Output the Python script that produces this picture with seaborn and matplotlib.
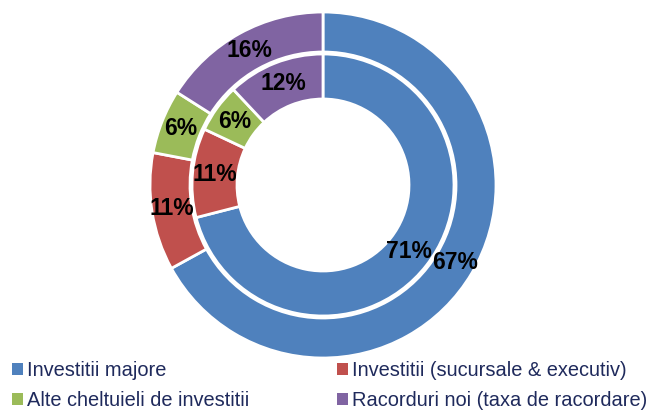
import seaborn as sns
import matplotlib.pyplot as plt
from matplotlib.patches import Patch

# Data
categories = ["Investitii majore", "Investitii (sucursale & executiv)",
              "Alte cheltuieli de investitii", "Racorduri noi (taxa de racordare)"]
outer_values = [67, 11, 6, 16]
inner_values = [71, 11, 6, 12]
colors = ["#4F81BD", "#C0504D", "#9BBB59", "#8064A2"]

sns.set_style("white")
plt.rcParams["font.family"] = ["Liberation Sans", "DejaVu Sans"]

fig = plt.figure(figsize=(6.56, 4.15), dpi=100)
ax = fig.add_axes([0, 0, 1, 1])

center = (323, 230)
wedge_kw = dict(edgecolor="white", linewidth=2)
label_kw = dict(fontsize=16.5, fontweight="bold", color="black")

# Outer ring
ax.pie(outer_values, colors=colors, radius=173, center=center, startangle=90,
       counterclock=False, autopct="%.0f%%", pctdistance=0.884,
       wedgeprops=dict(width=40, **wedge_kw), textprops=label_kw, frame=True)

# Inner ring
ax.pie(inner_values, colors=colors, radius=131, center=center, startangle=90,
       counterclock=False, autopct="%.0f%%", pctdistance=0.83,
       wedgeprops=dict(width=45, **wedge_kw), textprops=label_kw, frame=True)

ax.set_xlim(0, 656)
ax.set_ylim(0, 415)
ax.set_aspect("equal")
ax.axis("off")

# Legend, two columns
handles = [Patch(facecolor=c, edgecolor="none") for c in colors]
leg_kw = dict(frameon=False, fontsize=14.4, handlelength=0.55, handleheight=0.55,
              handletextpad=0.2, labelspacing=0.58, borderpad=0, borderaxespad=0,
              loc="center left", bbox_transform=ax.transData, labelcolor="#1F2A5C")
leg1 = ax.legend([handles[0], handles[2]], [categories[0], categories[2]],
                 bbox_to_anchor=(12, 29.5), **leg_kw)
ax.add_artist(leg1)
ax.legend([handles[1], handles[3]], [categories[1], categories[3]],
          bbox_to_anchor=(337, 29.5), **leg_kw)

plt.savefig("out.png", dpi=100)
